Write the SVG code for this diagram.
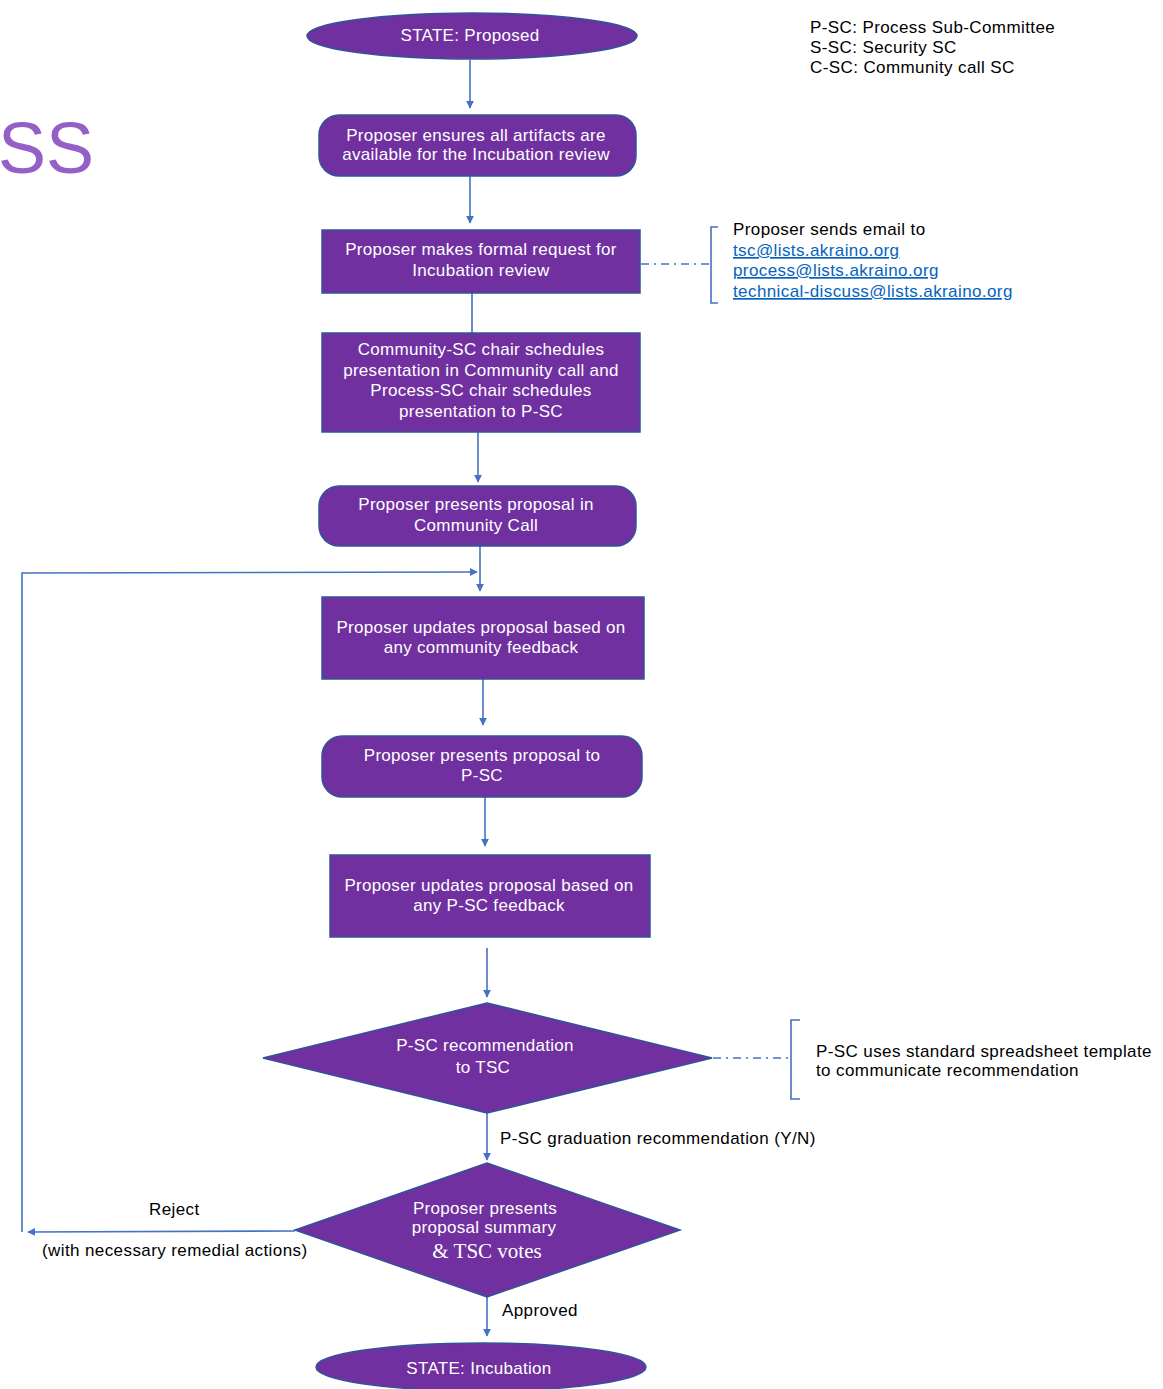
<svg xmlns="http://www.w3.org/2000/svg" width="1163" height="1389" viewBox="0 0 1163 1389">
<style>
.n{fill:#7030A0;stroke:#2F5597;stroke-width:1.5}
.t{font-family:"Liberation Sans",Arial,sans-serif;font-size:17px;fill:#ffffff;text-anchor:middle;letter-spacing:0.3px}
.k{font-family:"Liberation Sans",Arial,sans-serif;font-size:17px;fill:#000;letter-spacing:0.4px}
.l{font-family:"Liberation Sans",Arial,sans-serif;font-size:17px;fill:#0563C1;text-decoration:underline;letter-spacing:0.4px}
.c{fill:none;stroke:#4472C4;stroke-width:1.6}
.d{fill:none;stroke:#4472C4;stroke-width:1.6;stroke-dasharray:8 5 2 5}
</style>
<defs>
<marker id="ah" viewBox="0 0 10 10" refX="9" refY="5" markerWidth="8" markerHeight="8" markerUnits="userSpaceOnUse" orient="auto"><path d="M0,0 L10,5 L0,10 z" fill="#4472C4"/></marker>
</defs>
<rect width="1163" height="1389" fill="#ffffff"/>
<text x="-2" y="173" font-family="Liberation Sans,Arial,sans-serif" font-size="72" fill="#9460C8">SS</text>
<g id="legend">
<text class="k" x="810" y="33">P-SC: Process Sub-Committee</text>
<text class="k" x="810" y="53">S-SC: Security SC</text>
<text class="k" x="810" y="73">C-SC: Community call SC</text>
</g>
<g id="connectors">
<line class="c" x1="470" y1="60" x2="470" y2="108" marker-end="url(#ah)"/>
<line class="c" x1="470" y1="176" x2="470" y2="223" marker-end="url(#ah)"/>
<line class="c" x1="472" y1="293" x2="472" y2="333"/>
<line class="c" x1="478" y1="432" x2="478" y2="482" marker-end="url(#ah)"/>
<line class="c" x1="480" y1="546" x2="480" y2="591" marker-end="url(#ah)"/>
<polyline class="c" points="22,1232 22,573 477,572" marker-end="url(#ah)"/>
<line class="c" x1="483" y1="679" x2="483" y2="725" marker-end="url(#ah)"/>
<line class="c" x1="485" y1="797" x2="485" y2="846" marker-end="url(#ah)"/>
<line class="c" x1="487" y1="948" x2="487" y2="997" marker-end="url(#ah)"/>
<line class="c" x1="487" y1="1113" x2="487" y2="1160" marker-end="url(#ah)"/>
<line class="c" x1="295" y1="1231" x2="28" y2="1232" marker-end="url(#ah)"/>
<line class="c" x1="487" y1="1297" x2="487" y2="1336" marker-end="url(#ah)"/>
<line class="d" x1="641" y1="264" x2="710" y2="264"/>
<path class="c" d="M718,227 H711 V303 H718"/>
<line class="d" x1="713" y1="1058" x2="790" y2="1058"/>
<path class="c" d="M800,1020 H791 V1099 H800"/>
<text class="k" x="500" y="1144">P-SC graduation recommendation (Y/N)</text>
<text class="k" x="149" y="1215">Reject</text>
<text class="k" x="42" y="1256">(with necessary remedial actions)</text>
<text class="k" x="502" y="1316">Approved</text>
</g>
<g id="state-proposed">
<ellipse class="n" cx="472" cy="36" rx="165" ry="23"/>
<text class="t" x="470" y="41">STATE:  Proposed</text>
</g>
<g id="ensure-artifacts">
<rect class="n" x="319" y="115" width="317" height="61" rx="20"/>
<text class="t" x="476" y="141">Proposer ensures all artifacts are</text>
<text class="t" x="476" y="160">available for the Incubation review</text>
</g>
<g id="formal-request">
<rect class="n" x="322" y="230" width="318" height="63"/>
<text class="t" x="481" y="255">Proposer makes formal request for</text>
<text class="t" x="481" y="276">Incubation review</text>
</g>
<g id="email-note">
<text class="k" x="733" y="235">Proposer sends email to</text>
<text class="l" x="733" y="256">tsc@lists.akraino.org</text>
<text class="l" x="733" y="276">process@lists.akraino.org</text>
<text class="l" x="733" y="297">technical-discuss@lists.akraino.org</text>
</g>
<g id="schedule">
<rect class="n" x="322" y="333" width="318" height="99"/>
<text class="t" x="481" y="355">Community-SC chair schedules</text>
<text class="t" x="481" y="376">presentation in Community call and</text>
<text class="t" x="481" y="396">Process-SC chair schedules</text>
<text class="t" x="481" y="417">presentation to P-SC</text>
</g>
<g id="present-community">
<rect class="n" x="319" y="486" width="317" height="60" rx="20"/>
<text class="t" x="476" y="510">Proposer presents proposal in</text>
<text class="t" x="476" y="531">Community Call</text>
</g>
<g id="update-community">
<rect class="n" x="322" y="597" width="322" height="82"/>
<text class="t" x="481" y="633">Proposer updates proposal based on</text>
<text class="t" x="481" y="653">any community feedback</text>
</g>
<g id="present-psc">
<rect class="n" x="322" y="736" width="320" height="61" rx="20"/>
<text class="t" x="482" y="761">Proposer presents proposal to</text>
<text class="t" x="482" y="781">P-SC</text>
</g>
<g id="update-psc">
<rect class="n" x="330" y="855" width="320" height="82"/>
<text class="t" x="489" y="891">Proposer updates proposal based on</text>
<text class="t" x="489" y="911">any P-SC feedback</text>
</g>
<g id="psc-recommendation">
<polygon class="n" points="487,1003 712,1058 487,1113 263,1058"/>
<text class="t" x="485" y="1051">P-SC recommendation</text>
<text class="t" x="483" y="1073">to TSC</text>
</g>
<g id="psc-note">
<text class="k" x="816" y="1057">P-SC uses standard spreadsheet template</text>
<text class="k" x="816" y="1076">to communicate recommendation</text>
</g>
<g id="tsc-vote">
<polygon class="n" points="487,1163 680,1230 487,1297 295,1230"/>
<text class="t" x="485" y="1214">Proposer presents</text>
<text class="t" x="484" y="1233">proposal summary</text>
<text x="487" y="1258" font-family="Liberation Serif,Times New Roman,serif" font-size="21" fill="#ffffff" text-anchor="middle">&amp; TSC votes</text>
</g>
<g id="state-incubation">
<ellipse class="n" cx="481" cy="1367" rx="165" ry="24"/>
<text class="t" x="479" y="1374">STATE:  Incubation</text>
</g>
</svg>
